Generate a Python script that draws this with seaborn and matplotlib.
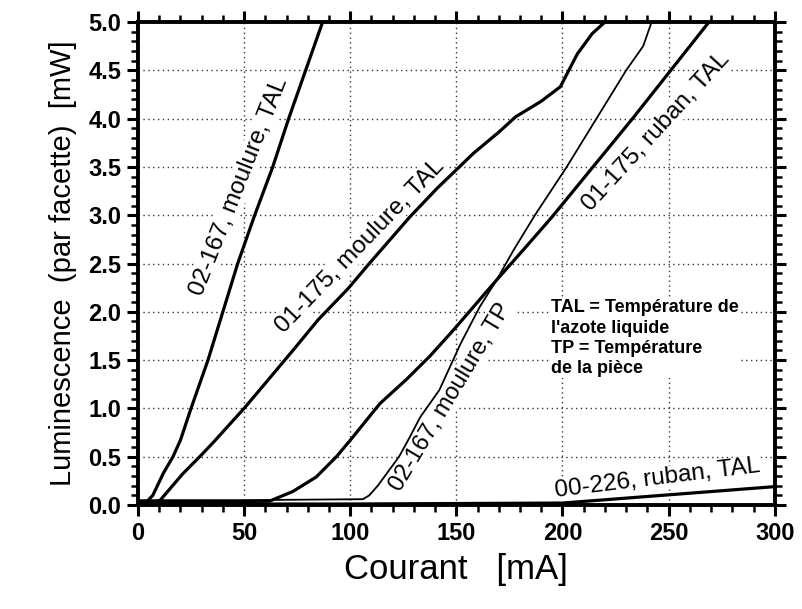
import matplotlib
matplotlib.use("Agg")
import matplotlib.pyplot as plt
import seaborn as sns
import pandas as pd
from matplotlib.ticker import MultipleLocator

# ---- data ----
a_x = [0, 4, 7, 12, 16.5, 20, 25, 33, 40, 47, 55, 63.5, 71, 79, 87]
a_y = [0.02, 0.03, 0.1, 0.33, 0.5, 0.67, 1.0, 1.5, 2.0, 2.5, 3.0, 3.5, 4.0, 4.5, 5.0]

b_x = [0, 8, 10.5, 21, 30, 36, 50, 60, 73, 85, 99, 109, 128, 141, 150, 158, 170, 178, 190, 199, 203, 207, 214, 220]
b_y = [0.02, 0.03, 0.05, 0.32, 0.52, 0.66, 1.0, 1.26, 1.6, 1.92, 2.24, 2.5, 2.98, 3.28, 3.47, 3.64, 3.86, 4.02, 4.18, 4.33, 4.5, 4.67, 4.88, 5.0]

c_x = [0, 30, 62, 73, 84, 93.5, 100, 114, 126.5, 137.5, 149, 158, 169, 181.5, 195, 214, 233, 251, 269]
c_y = [0.03, 0.03, 0.04, 0.14, 0.29, 0.5, 0.67, 1.05, 1.3, 1.54, 1.82, 2.05, 2.33, 2.64, 2.98, 3.49, 4.0, 4.5, 5.0]

d_x = [0, 50, 106, 109, 113, 118, 123, 128, 133, 142, 152, 161, 169, 177, 187, 202, 216, 223, 230, 238, 242]
d_y = [0.05, 0.05, 0.06, 0.1, 0.2, 0.35, 0.5, 0.7, 0.91, 1.19, 1.67, 2.05, 2.33, 2.64, 3.0, 3.5, 4.0, 4.25, 4.5, 4.75, 5.0]

e_x = [0, 100, 200, 247, 300]
e_y = [0.01, 0.01, 0.02, 0.1, 0.19]

curve_labels = ["02-167, moulure, TAL", "01-175, moulure, TAL", "01-175, ruban, TAL",
                "02-167, moulure, TP", "00-226, ruban, TAL"]
note_text = "TAL = Température de\nl'azote liquide\nTP = Température\nde la pièce"
x_label = "Courant   [mA]"
y_label = "Luminescence  (par facette)  [mW]"

# ---- plot ----
sns.set_style("white")
plt.rcParams['font.family'] = ['Liberation Sans', 'DejaVu Sans']
plt.rcParams['text.color'] = 'black'
plt.rcParams['axes.labelcolor'] = 'black'
plt.rcParams['xtick.color'] = 'black'
plt.rcParams['ytick.color'] = 'black'

fig = plt.figure(figsize=(8.02, 6.09), dpi=100)
ax = fig.add_axes([0.172, 0.1708, 0.794, 0.793])

series = [(a_x, a_y, 2.3), (b_x, b_y, 2.3), (c_x, c_y, 2.3), (d_x, d_y, 1.3), (e_x, e_y, 2.3)]
for xs, ys, lw in series:
    df = pd.DataFrame({"x": xs, "y": ys})
    sns.lineplot(data=df, x="x", y="y", ax=ax, color="black", linewidth=lw,
                 estimator=None, sort=False, zorder=3)

ax.set_xlim(0, 300)
ax.set_ylim(0, 5.0)
ax.xaxis.set_major_locator(MultipleLocator(50))
ax.xaxis.set_minor_locator(MultipleLocator(10))
ax.yaxis.set_major_locator(MultipleLocator(0.5))
ax.yaxis.set_minor_locator(MultipleLocator(0.1))
ax.yaxis.set_major_formatter(matplotlib.ticker.FormatStrFormatter('%.1f'))

ax.grid(True, which='major', linestyle=(0, (1, 2.5)), color='#333333', linewidth=1.0)
ax.set_axisbelow(True)
for sp in ax.spines.values():
    sp.set_visible(True)
    sp.set_linewidth(2.8)
    sp.set_color('black')
    sp.set_zorder(4)

ax.tick_params(which='both', direction='out', top=True, right=True, bottom=True, left=True,
               color='black')
ax.tick_params(which='major', length=8, width=2.2, labelsize=17, pad=4)
ax.tick_params(which='minor', length=5, width=1.8)
for lab in ax.get_xticklabels() + ax.get_yticklabels():
    lab.set_fontweight('bold')

ax.set_xlabel(x_label, fontsize=25, labelpad=6)
ax.set_ylabel(y_label, fontsize=21, labelpad=8)

# curve annotations (white background masks the grid, curves drawn above)
bg = dict(facecolor='white', edgecolor='none', pad=0.5)
ax.text(47.5, 3.3, curve_labels[0], rotation=68.5, fontsize=17.5, ha='center', va='center', bbox=bg, zorder=2)
ax.text(104.5, 2.68, curve_labels[1], rotation=46, fontsize=17.5, ha='center', va='center', bbox=bg, zorder=2)
ax.text(244, 3.86, curve_labels[2], rotation=47.5, fontsize=17.5, ha='center', va='center', bbox=bg, zorder=2)
ax.text(147.3, 1.12, curve_labels[3], rotation=59, fontsize=17, ha='center', va='center', bbox=bg, zorder=2)
ax.text(245, 0.27, curve_labels[4], rotation=7, fontsize=17.5, ha='center', va='center', bbox=bg, zorder=2)

ax.text(194.5, 2.13, note_text, fontsize=13, fontweight='bold', ha='left', va='top',
        linespacing=1.25, bbox=dict(facecolor='white', edgecolor='none', pad=1), zorder=2)

fig.savefig("out.png", dpi=100)
